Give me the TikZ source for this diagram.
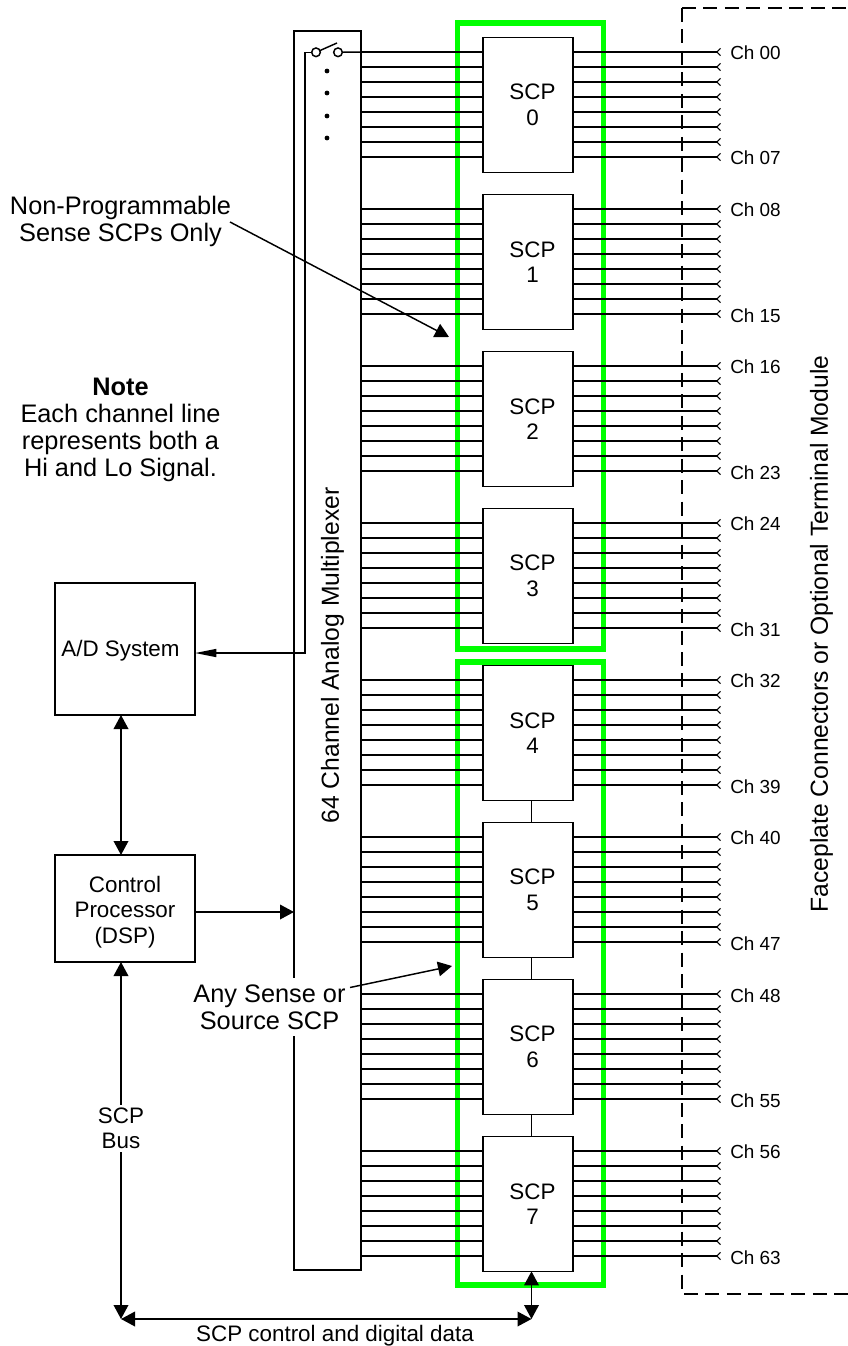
\documentclass[tikz,border=0pt]{standalone}
\usepackage{fontspec}
\setmainfont{Liberation Sans}
\usetikzlibrary{arrows.meta}
\definecolor{scpgreen}{RGB}{0,255,0}
\tikzset{
    bigtext/.style={font=\fontsize{19}{20.3}\selectfont, align=center, inner sep=0pt},
    sidetext/.style={font=\fontsize{18.5}{20.3}\selectfont, inner sep=0pt, rotate=90},
    midtext/.style={font=\fontsize{16.8}{19.1}\selectfont, align=center, inner sep=0pt},
    chtext/.style={font=\fontsize{14.2}{16}\selectfont, anchor=west, inner sep=0pt},
    blockbox/.style={draw, line width=1.2pt, fill=white, outer sep=0pt, minimum width=105pt},
    scpbox/.style={draw, line width=1.2pt, outer sep=0pt, minimum width=67.5pt, minimum height=101pt},
    groupbox/.style={draw=scpgreen, line width=4.2pt},
    wire/.style={line width=1.1pt},
    bigtip/.tip={Triangle[length=10.5pt,width=11pt]},
    chline/.style={line width=1.1pt, -{Straight Barb[reversed,length=2.6pt,width=5.5pt,line width=.8pt]}},
    contact/.style={draw, circle, line width=1.1pt, minimum size=6.5pt, inner sep=0pt, outer sep=0pt},
    swdot/.style={fill, circle, minimum size=3.6pt, inner sep=0pt}
}
\begin{document}
\begin{tikzpicture}[x=0.75pt,y=-0.75pt]
    \useasboundingbox (0,0) rectangle (848,1346);

    % green groups and terminal module outline
    \draw[groupbox] (457.5,23) rectangle (603.5,649);
    \draw[groupbox] (457.5,662) rectangle (603.5,1285);
    \draw[line width=.9pt, dash pattern=on 10.5pt off 5.6pt] (682,8) -- (848,8);
    \draw[line width=.9pt, dash pattern=on 10.5pt off 5.6pt] (682,8) -- (682,1294) -- (848,1294);

    % blocks
    \node[draw, line width=1.2pt, outer sep=0pt, minimum width=50.25pt, minimum height=929.25pt] (mux) at (327.5,650.5) {};
    \node[blockbox, minimum height=99pt] (ad) at (125,649) {};
    \node[blockbox, minimum height=80.25pt] (ctrl) at (125,908.5) {};
    \node[midtext] (adtext) at (120.5,651) {A/D System};
    \node[midtext] (ctrltext) at (125,912) {Control\\Processor\\(DSP)};

    \foreach \i in {0,...,7} {
        \node[scpbox] (scp\i) at (528,{105+157*\i}) {};
        \node[midtext] (scptext\i) at (532.5,{105+157*\i}) {SCP\\\i};
    }

    % channel lines
    \foreach \i in {0,...,7} {
        \foreach \j in {0,...,7} {
            \pgfmathtruncatemacro{\n}{8*\i+\j}
            \pgfmathsetmacro{\ypos}{52+157*\i+15*\j}
            \coordinate (muxout\n) at (361,\ypos);
            \coordinate (scpin\n) at (483,\ypos);
            \coordinate (scpout\n) at (573,\ypos);
            \coordinate (chend\n) at (721,\ypos);
            \draw[wire] (muxout\n) -- (scpin\n);
            \draw[chline] (scpout\n) -- (chend\n);
        }
    }
    \foreach \n/\ypos in {00/52.5,07/158,08/210,15/315.5,16/367,23/472.5,24/524,31/629.5,32/681,39/786.5,40/837.5,47/943.5,48/995.5,55/1100.5,56/1152,63/1257.5} {
        \node[chtext] (chtext\n) at (730,\ypos) {Ch \n};
    }

    % switch
    \node[contact] (swa) at (316,52.3) {};
    \node[contact] (swb) at (338,52.3) {};
    \coordinate (lever) at (337,43);
    \coordinate (tap) at (305,653);
    \draw[wire] (swa) -- (lever);
    \draw[wire] (swb) -- (muxout0);
    \foreach \ypos in {71,93,116,138} {
        \node[swdot] (dot\ypos) at (327,\ypos) {};
    }

    % connections on the left
    \coordinate (bus) at (121,1319);
    \coordinate (data) at (531.5,1319);
    \coordinate (ctrlout) at (195,912);
    \draw[wire, -{Triangle[length=16pt,width=6pt]}] (swa) -| (tap) -- (tap -| ad.east);
    \draw[wire, {bigtip}-{bigtip}] (ad.south -| bus) -- (ctrl.north -| bus);
    \draw[wire, {bigtip}-{bigtip}] (ctrl.south -| bus) -- (bus);
    \draw[wire, -{bigtip}] (ctrlout) -- (ctrlout -| mux.west);
    \draw[wire, {bigtip}-{bigtip}] (bus) -- (data);
    \draw[wire, {bigtip}-{bigtip}] (scp7.south -| data) -- (data);
    \draw[wire] (scp4.south -| data) -- (scp5.north -| data);
    \draw[wire] (scp5.south -| data) -- (scp6.north -| data);
    \draw[wire] (scp6.south -| data) -- (scp7.north -| data);

    % text
    \node[sidetext] (muxtext) at (332.5,655.5) {64 Channel Analog Multiplexer};
    \node[sidetext] (facetext) at (821.5,634) {Faceplate Connectors or Optional Terminal Module};
    \node[bigtext] (notetext) at (120.5,430) {\textbf{Note}\\Each channel line\\represents both a\\Hi and Lo Signal.};
    \node[bigtext] (nonprog) at (120.5,221) {Non-Programmable\\Sense SCPs Only};
    \node[bigtext, fill=white, minimum height=43.5pt] (anysense) at (269.5,1007) {Any Sense or\\Source SCP};
    \node[midtext, fill=white, minimum height=35pt] (bustext) at (121,1128.5) {SCP\\Bus};
    \node[midtext] (datatext) at (335,1336) {SCP control and digital data};

    \coordinate (nonprogend) at (449,337);
    \coordinate (anyend) at (452,966);
    \coordinate (nonprogstart) at (230,222);
    \coordinate (anystart) at (350,987.5);
    \draw[wire, -{bigtip}] (nonprogstart) -- (nonprogend);
    \draw[wire, -{bigtip}] (anystart) -- (anyend);
\end{tikzpicture}
\end{document}
